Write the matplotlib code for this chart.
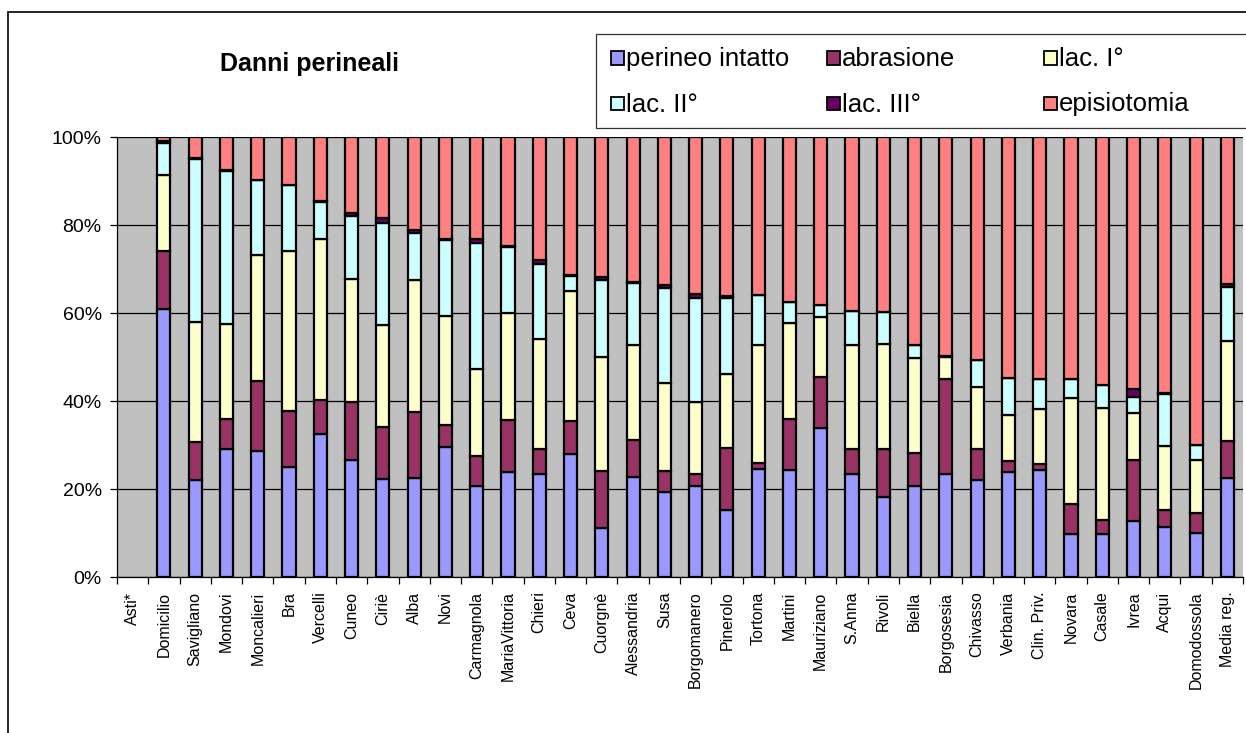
import numpy as np
import matplotlib
matplotlib.use("Agg")
import matplotlib.pyplot as plt
from matplotlib.patches import Rectangle

plt.rcParams['font.family'] = ['Liberation Sans', 'DejaVu Sans']

categories = ["Asti*", "Domicilio", "Savigliano", "Mondovi", "Moncalieri", "Bra",
              "Vercelli", "Cuneo", "Ciriè", "Alba", "Novi", "Carmagnola",
              "MariaVittoria", "Chieri", "Ceva", "Cuorgnè", "Alessandria", "Susa",
              "Borgomanero", "Pinerolo", "Tortona", "Martini", "Mauriziano",
              "S.Anna", "Rivoli", "Biella", "Borgosesia", "Chivasso", "Verbania",
              "Clin. Priv.", "Novara", "Casale", "Ivrea", "Acqui", "Domodossola",
              "Media reg."]

series_names = ["perineo intatto", "abrasione", "lac. I°", "lac. II°", "lac. III°", "episiotomia"]

# Asti* has no data (None)
perineo_intatto = [None, 60.9, 22.0, 29.2, 28.7, 25.1, 32.6, 26.6, 22.3, 22.4, 29.6, 20.7,
                   23.8, 23.5, 27.9, 11.1, 22.8, 19.4, 20.7, 15.2, 24.5, 24.3, 33.8,
                   23.5, 18.2, 20.7, 23.5, 22.0, 23.9, 24.3, 9.8, 9.8, 12.8, 11.3, 10.1, 22.5]
abrasione = [None, 13.2, 8.7, 6.8, 15.9, 12.6, 7.7, 13.2, 11.8, 15.1, 4.9, 6.9,
             11.9, 5.5, 7.5, 13.0, 8.3, 4.6, 2.8, 14.2, 1.5, 11.5, 11.7,
             5.5, 10.8, 7.4, 21.6, 7.0, 2.4, 1.3, 6.8, 3.1, 13.8, 3.9, 4.5, 8.5]
lac_I = [None, 17.2, 27.3, 21.6, 28.5, 36.4, 36.6, 27.9, 23.1, 30.1, 24.8, 19.6,
         24.2, 25.2, 29.6, 25.9, 21.6, 20.2, 16.3, 16.7, 26.7, 22.0, 13.6,
         23.7, 23.9, 21.6, 4.9, 14.1, 10.5, 12.5, 24.0, 25.6, 10.6, 14.6, 12.0, 22.6]
lac_II = [None, 7.4, 36.9, 34.7, 17.2, 15.1, 8.3, 14.3, 23.3, 10.6, 17.2, 28.8,
          15.1, 17.0, 3.4, 17.4, 14.1, 21.4, 23.6, 17.2, 11.3, 4.7, 2.7,
          7.7, 7.4, 3.0, 0.2, 6.2, 8.5, 6.8, 4.3, 5.1, 3.8, 11.8, 3.4, 12.3]
lac_III = [None, 0.4, 0.4, 0.1, 0.0, 0.0, 0.3, 0.8, 1.0, 0.6, 0.4, 0.8,
           0.3, 0.8, 0.2, 0.8, 0.3, 0.7, 1.0, 0.6, 0.0, 0.0, 0.1,
           0.0, 0.0, 0.0, 0.0, 0.0, 0.0, 0.0, 0.0, 0.0, 1.8, 0.3, 0.0, 0.6]
episiotomia = [None, 0.9, 4.7, 7.6, 9.7, 10.8, 14.5, 17.2, 18.5, 21.2, 23.1, 23.2,
               24.7, 28.0, 31.4, 31.8, 32.9, 33.7, 35.6, 36.1, 36.0, 37.5, 38.1,
               39.6, 39.7, 47.3, 49.8, 50.7, 54.7, 55.1, 55.1, 56.4, 57.2, 58.1, 70.0, 33.5]

ytick_labels = ["0%", "20%", "40%", "60%", "80%", "100%"]

colors = ["#9999FF", "#993366", "#FFFFCC", "#CCFFFF", "#660066", "#FF8080"]

W, H = 1246, 733
fig = plt.figure(figsize=(W / 100, H / 100), dpi=100)
fig.patch.set_facecolor("white")

def fx(px):
    return px / W

def fy(py):
    return 1 - py / H

ax = fig.add_axes([fx(117), fy(577), fx(1243) - fx(117), fy(137) - fy(577)])
ax.set_facecolor("#C0C0C0")

data = [perineo_intatto, abrasione, lac_I, lac_II, lac_III, episiotomia]
x = np.arange(len(categories))
bottom = np.zeros(len(categories))
for vals, col, name in zip(data, colors, series_names):
    v = np.array([np.nan if a is None else a for a in vals], dtype=float)
    ax.bar(x, v, bottom=bottom, width=0.42, color=col, edgecolor="black",
           linewidth=1.6, label=name, zorder=3)
    bottom += np.nan_to_num(v)

ax.set_xlim(-0.5, len(categories) - 0.5)
ax.set_ylim(0, 100)
ax.set_yticks([0, 20, 40, 60, 80, 100])
ax.set_yticklabels(ytick_labels, fontsize=14)
ax.yaxis.grid(True, color="black", linewidth=0.9, zorder=1)
ax.set_axisbelow(True)
ax.tick_params(axis="y", direction="out", length=5, width=0.9, pad=6)

ax.set_xticks(x)
ax.set_xticklabels(categories, rotation=90, fontsize=11.5, va="top")
ax.tick_params(axis="x", which="major", length=0, pad=10.5)
ax.set_xticks(np.arange(-0.5, len(categories) + 0.5, 1), minor=True)
ax.tick_params(axis="x", which="minor", direction="out", length=5, width=0.9)

for s in ["top", "right"]:
    ax.spines[s].set_visible(False)
ax.spines["left"].set_linewidth(0.9)
ax.spines["bottom"].set_linewidth(0.9)

# Title
fig.text(fx(309), fy(71), "Danni perineali", fontsize=18, fontweight="bold",
         ha="center", va="baseline")

# Outer chart frame
fig.add_artist(Rectangle((fx(8), fy(760)), fx(1300), fy(12) - fy(760),
                         transform=fig.transFigure, fill=False,
                         edgecolor="black", linewidth=1.2))

# Legend box
fig.add_artist(Rectangle((fx(596), fy(128)), fx(700), fy(34) - fy(128),
                         transform=fig.transFigure, facecolor="white",
                         edgecolor="#333333", linewidth=0.9))
col_x = [611, 827, 1044]
row_y = [58, 103.5]
for i, (name, col) in enumerate(zip(series_names, colors)):
    cx = col_x[i % 3]
    cy = row_y[i // 3]
    fig.add_artist(Rectangle((fx(cx), fy(cy + 6.5)), fx(13), fy(cy - 6.5) - fy(cy + 6.5),
                             transform=fig.transFigure, facecolor=col,
                             edgecolor="black", linewidth=1.3))
    fig.text(fx(cx + 15), fy(cy + 8), name, fontsize=18.5, ha="left", va="baseline")

fig.savefig("out.png", dpi=100, facecolor="white")
